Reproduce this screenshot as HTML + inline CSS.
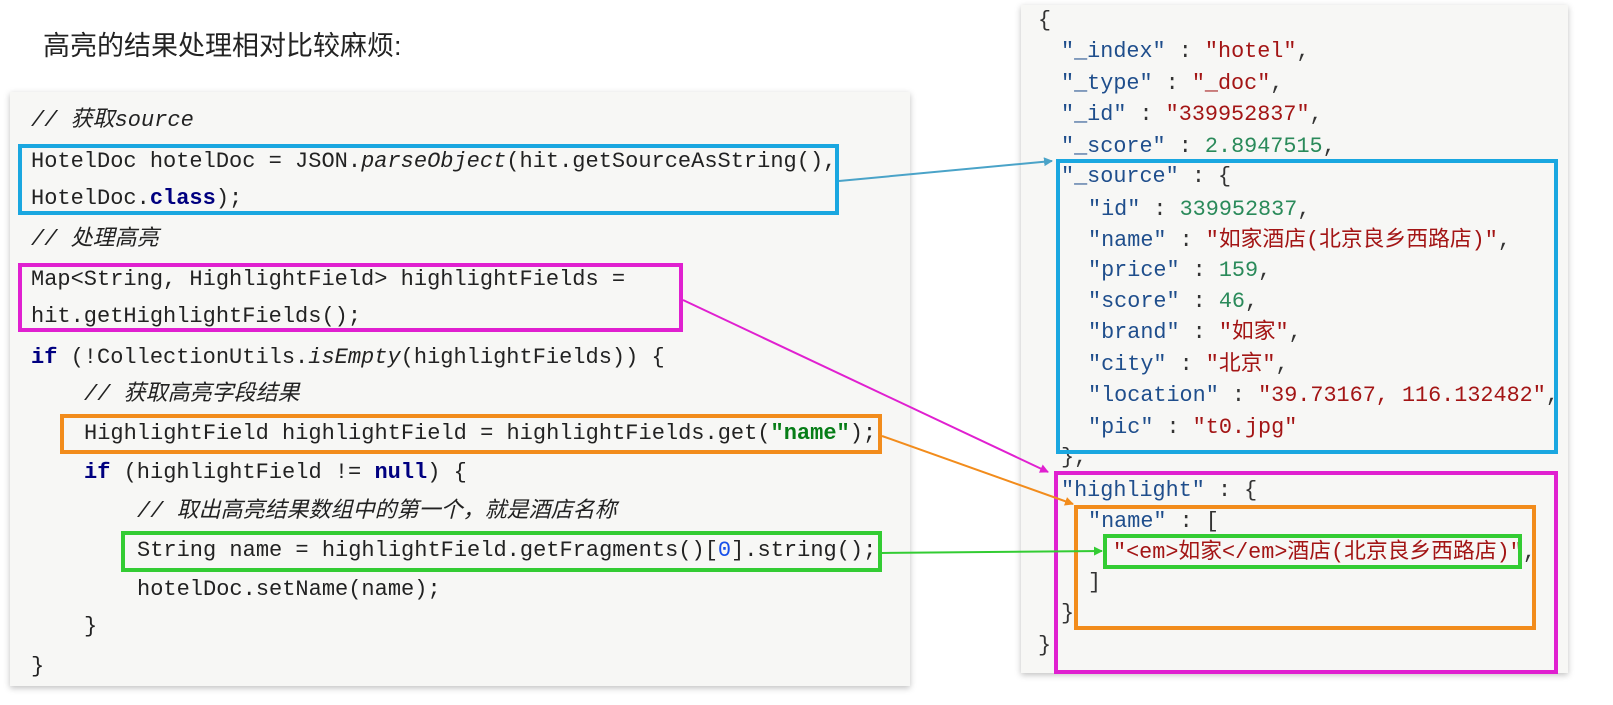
<!DOCTYPE html>
<html><head><meta charset="utf-8"><style>
body{margin:0;width:1613px;height:705px;background:#fff;position:relative;overflow:hidden;font-family:"Liberation Sans","Noto Sans CJK SC",sans-serif}
.t{position:absolute;left:43px;top:24px;font-size:27px;color:#222}
.panel{position:absolute;background:#f7f7f5;box-shadow:0 2px 6px rgba(0,0,0,.25)}
.l{position:absolute;white-space:pre;font-family:"Liberation Mono","Noto Sans CJK SC",monospace;line-height:1;transform:translateY(-50%)}
.c .l{font-size:22px;color:#222}
.cm{color:#8c8c8c;font-style:italic}
.kw{color:#000080;font-weight:bold}
.it{font-style:italic}
.st{color:#067d17;font-weight:bold}
.j .l{font-size:21.8px;color:#333}
.k{color:#1f4e8c}.s{color:#a31515}.n{color:#2a8a5a}
.b{position:absolute;box-sizing:border-box;border:4px solid}
</style></head><body>
<div class="t">高亮的结果处理相对比较麻烦:</div>
<div class="panel" style="left:10px;top:92px;width:900px;height:594px"></div>
<div class="c">
<div class="l cm" style="left:31px;top:121px">// 获取source</div>
<div class="l" style="left:31px;top:162px">HotelDoc hotelDoc = JSON.<span class="it">parseObject</span>(hit.getSourceAsString(),</div>
<div class="l" style="left:31px;top:199px">HotelDoc.<span class="kw">class</span>);</div>
<div class="l cm" style="left:31px;top:240px">// 处理高亮</div>
<div class="l" style="left:31px;top:280px">Map&lt;String, HighlightField&gt; highlightFields =</div>
<div class="l" style="left:31px;top:317px">hit.getHighlightFields();</div>
<div class="l" style="left:31px;top:358px"><span class="kw">if</span> (!CollectionUtils.<span class="it">isEmpty</span>(highlightFields)) {</div>
<div class="l cm" style="left:84px;top:395px">// 获取高亮字段结果</div>
<div class="l" style="left:84px;top:434px">HighlightField highlightField = highlightFields.get(<span class="st">"name"</span>);</div>
<div class="l" style="left:84px;top:473px"><span class="kw">if</span> (highlightField != <span class="kw">null</span>) {</div>
<div class="l cm" style="left:137px;top:512px">// 取出高亮结果数组中的第一个，就是酒店名称</div>
<div class="l" style="left:137px;top:551px">String name = highlightField.getFragments()[<span style="color:#1750eb">0</span>].string();</div>
<div class="l" style="left:137px;top:590px">hotelDoc.setName(name);</div>
<div class="l" style="left:84px;top:627px">}</div>
<div class="l" style="left:31px;top:667px">}</div>
</div>
<div class="b" style="left:18px;top:144px;width:821px;height:71px;border-color:#1aa7e0"></div>
<div class="b" style="left:18px;top:263px;width:665px;height:69px;border-color:#e020d0"></div>
<div class="b" style="left:60px;top:414px;width:822px;height:40px;border-color:#f28c1c"></div>
<div class="b" style="left:121px;top:531px;width:761px;height:41px;border-color:#33cc33"></div>

<div class="panel" style="left:1021px;top:5px;width:547px;height:668px"></div>
<div class="j">
<div class="l" style="left:1038px;top:21px">{</div>
<div class="l" style="left:1061px;top:52px"><span class="k">"_index"</span> : <span class="s">"hotel"</span>,</div>
<div class="l" style="left:1061px;top:84px"><span class="k">"_type"</span> : <span class="s">"_doc"</span>,</div>
<div class="l" style="left:1061px;top:115px"><span class="k">"_id"</span> : <span class="s">"339952837"</span>,</div>
<div class="l" style="left:1061px;top:147px"><span class="k">"_score"</span> : <span class="n">2.8947515</span>,</div>
<div class="l" style="left:1061px;top:177px"><span class="k">"_source"</span> : {</div>
<div class="l" style="left:1088px;top:210px"><span class="k">"id"</span> : <span class="n">339952837</span>,</div>
<div class="l" style="left:1088px;top:241px"><span class="k">"name"</span> : <span class="s">"如家酒店(北京良乡西路店)"</span>,</div>
<div class="l" style="left:1088px;top:271px"><span class="k">"price"</span> : <span class="n">159</span>,</div>
<div class="l" style="left:1088px;top:302px"><span class="k">"score"</span> : <span class="n">46</span>,</div>
<div class="l" style="left:1088px;top:333px"><span class="k">"brand"</span> : <span class="s">"如家"</span>,</div>
<div class="l" style="left:1088px;top:365px"><span class="k">"city"</span> : <span class="s">"北京"</span>,</div>
<div class="l" style="left:1088px;top:396px"><span class="k">"location"</span> : <span class="s">"39.73167, 116.132482"</span>,</div>
<div class="l" style="left:1088px;top:428px"><span class="k">"pic"</span> : <span class="s">"t0.jpg"</span></div>
<div class="l" style="left:1061px;top:458px">},</div>
<div class="l" style="left:1061px;top:491px"><span class="k">"highlight"</span> : {</div>
<div class="l" style="left:1088px;top:522px"><span class="k">"name"</span> : [</div>
<div class="l" style="left:1113px;top:553px"><span class="s">"&lt;em&gt;如家&lt;/em&gt;酒店(北京良乡西路店)"</span>,</div>
<div class="l" style="left:1088px;top:583px">]</div>
<div class="l" style="left:1061px;top:614px">}</div>
<div class="l" style="left:1038px;top:646px">}</div>
</div>
<div class="b" style="left:1056px;top:159px;width:502px;height:295px;border-color:#1aa7e0"></div>
<div class="b" style="left:1054px;top:471px;width:504px;height:203px;border-color:#e020d0"></div>
<div class="b" style="left:1074px;top:505px;width:462px;height:125px;border-color:#f28c1c"></div>
<div class="b" style="left:1103px;top:534px;width:419px;height:35px;border-color:#33cc33"></div>

<svg width="1613" height="705" style="position:absolute;left:0;top:0">
<defs>
<marker id="ab" markerWidth="9" markerHeight="9" refX="8" refY="4.5" orient="auto" markerUnits="userSpaceOnUse"><path d="M0,0L9,4.5L0,9z" fill="#4aa3c8"/></marker>
<marker id="am" markerWidth="9" markerHeight="9" refX="8" refY="4.5" orient="auto" markerUnits="userSpaceOnUse"><path d="M0,0L9,4.5L0,9z" fill="#e020d0"/></marker>
<marker id="ao" markerWidth="9" markerHeight="9" refX="8" refY="4.5" orient="auto" markerUnits="userSpaceOnUse"><path d="M0,0L9,4.5L0,9z" fill="#f28c1c"/></marker>
<marker id="ag" markerWidth="9" markerHeight="9" refX="8" refY="4.5" orient="auto" markerUnits="userSpaceOnUse"><path d="M0,0L9,4.5L0,9z" fill="#33cc33"/></marker>
</defs>
<line x1="839" y1="181" x2="1052" y2="161" stroke="#4aa3c8" stroke-width="2" marker-end="url(#ab)"/>
<line x1="683" y1="300" x2="1048" y2="472" stroke="#e020d0" stroke-width="2" marker-end="url(#am)"/>
<line x1="882" y1="436" x2="1073" y2="504" stroke="#f28c1c" stroke-width="2" marker-end="url(#ao)"/>
<line x1="882" y1="553" x2="1102" y2="551" stroke="#33cc33" stroke-width="2" marker-end="url(#ag)"/>
</svg>
</body></html>
